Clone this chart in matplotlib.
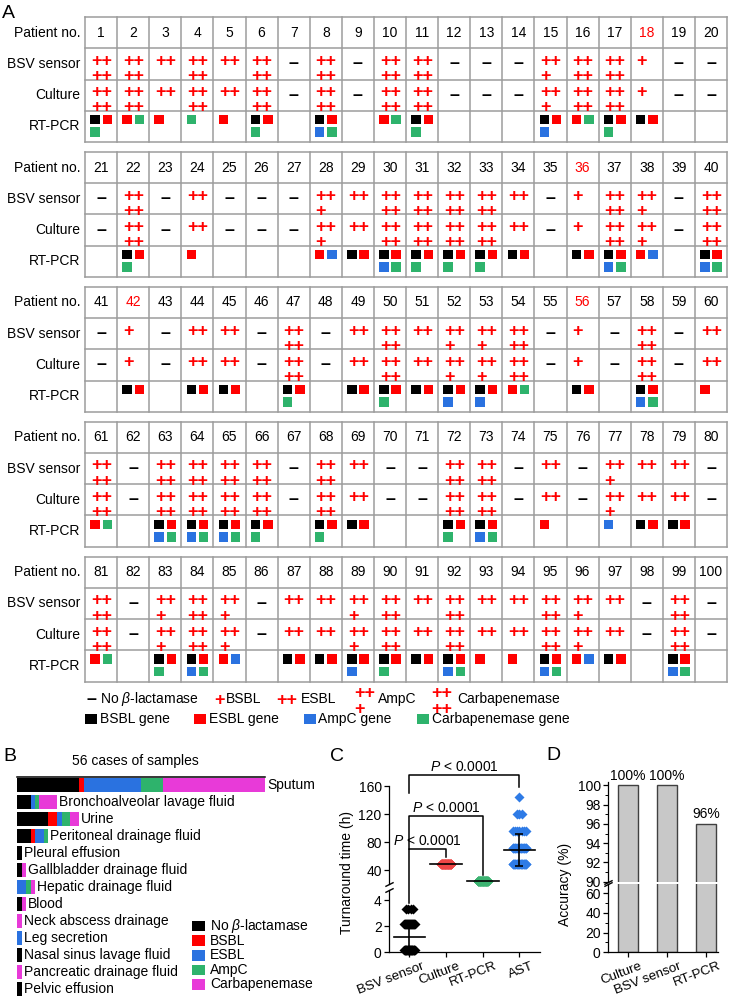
import numpy as np
import matplotlib
matplotlib.use("Agg")
import matplotlib.pyplot as plt
from matplotlib.patches import Rectangle
from matplotlib.transforms import ScaledTranslation

plt.rcParams["font.family"] = ["Liberation Sans", "DejaVu Sans"]
plt.rcParams["mathtext.fontset"] = "custom"
plt.rcParams["mathtext.rm"] = "Liberation Sans"
plt.rcParams["mathtext.it"] = "Liberation Sans:italic"
plt.rcParams["font.size"] = 10

# ---------------- data: panel A ----------------
patient_no = list(range(1, 101))
red_patients = [18, 36, 42, 56]
row_labels = ["Patient no.", "BSV sensor", "Culture", "RT-PCR"]

# 0 = no beta-lactamase, 1 = BSBL (+), 2 = ESBL (++), 3 = AmpC (++/+), 4 = carbapenemase (++/++)
bsv_sensor = [4, 4, 2, 4, 2, 4, 0, 4, 0, 4, 4, 0, 0, 0, 3, 4, 4, 1, 0, 0,
              0, 4, 0, 2, 0, 0, 0, 3, 2, 4, 4, 4, 4, 2, 0, 1, 4, 3, 0, 4,
              0, 1, 0, 2, 2, 0, 4, 0, 2, 4, 2, 3, 3, 4, 0, 1, 0, 4, 0, 2,
              4, 0, 4, 4, 4, 4, 0, 4, 2, 0, 0, 4, 4, 0, 2, 0, 3, 2, 2, 0,
              4, 0, 3, 4, 3, 0, 2, 2, 3, 4, 2, 4, 2, 2, 4, 3, 2, 0, 4, 0]
culture = [4, 4, 2, 4, 2, 4, 0, 4, 0, 4, 4, 0, 0, 0, 3, 4, 4, 1, 0, 0,
           0, 4, 0, 2, 0, 0, 0, 3, 2, 4, 4, 4, 4, 2, 0, 1, 4, 3, 0, 4,
           0, 1, 0, 2, 2, 0, 4, 0, 2, 4, 2, 3, 3, 4, 0, 1, 0, 4, 0, 2,
           4, 0, 4, 4, 4, 4, 0, 4, 2, 0, 0, 4, 4, 0, 2, 0, 3, 2, 2, 0,
           4, 0, 3, 4, 3, 0, 2, 2, 3, 4, 2, 4, 2, 2, 4, 3, 2, 0, 4, 0]
# genes found: B = BSBL, E = ESBL, A = AmpC, C = carbapenemase
rt_pcr = ["BEC", "EC", "E", "C", "E", "BEC", "", "BEAC", "", "EC",
          "BEC", "", "", "", "BEA", "EC", "BEC", "BE", "", "",
          "", "BEC", "", "E", "", "", "", "EA", "BE", "BEAC",
          "BEC", "BEC", "BEC", "BE", "", "BE", "BEAC", "EA", "", "BEAC",
          "", "BE", "", "BE", "BE", "", "BEC", "", "BE", "BEC",
          "BE", "BEA", "BEA", "EC", "", "BE", "", "BEAC", "", "E",
          "EC", "", "BEAC", "BEAC", "BEAC", "BEC", "", "BEC", "BE", "",
          "", "BEC", "BEAC", "", "E", "", "A", "BE", "BE", "",
          "EC", "", "BEC", "BEAC", "EA", "", "BE", "BE", "BEA", "BEC",
          "BE", "BEAC", "E", "E", "BEAC", "EA", "BE", "", "BEAC", ""]

# ---------------- data: panel B ----------------
sample_types = ["Sputum", "Bronchoalveolar lavage fluid", "Urine", "Peritoneal drainage fluid",
                "Pleural effusion", "Gallbladder drainage fluid", "Hepatic drainage fluid", "Blood",
                "Neck abscess drainage", "Leg secretion", "Nasal sinus lavage fluid",
                "Pancreatic drainage fluid", "Pelvic effusion"]
b_none = [14, 3, 7, 3, 1, 1, 0, 1, 0, 0, 1, 0, 1]
b_bsbl = [1, 0, 2, 1, 0, 0, 0, 0, 0, 0, 0, 0, 0]
b_esbl = [13, 1, 1, 2, 0, 0, 2, 0, 0, 1, 0, 0, 0]
b_ampc = [5, 1, 2, 1, 0, 0, 1, 0, 0, 0, 0, 0, 0]
b_carb = [23, 4, 2, 0, 0, 1, 1, 1, 1, 0, 0, 1, 0]
b_names = [r"No $\beta$-lactamase", "BSBL", "ESBL", "AmpC", "Carbapenemase"]

# ---------------- data: panel C ----------------
c_methods = ["BSV sensor", "Culture", "RT-PCR", "AST"]
c_levels = [[0.2, 2.2, 3.3], [48], [24], [48, 72, 96, 120, 144]]
c_counts = [[30, 22, 4], [56], [56], [25, 20, 7, 3, 1]]
c_colors = ["#000000", "#ee4646", "#3cb371", "#2e7be6"]
p_text = "$P$ < 0.0001"

# ---------------- data: panel D ----------------
d_methods = ["Culture", "BSV sensor", "RT-PCR"]
d_accuracy = [100, 100, 96]

# ---------------- style ----------------
RED = "#ff0000"
BLUE = "#2a72e0"
GREEN = "#2eb36c"
MAGENTA = "#e83ad8"
gene_colors = {"B": "#000000", "E": RED, "A": BLUE, "C": GREEN}
b_colors = ["#000000", RED, BLUE, GREEN, MAGENTA]

W, H = 730, 999
fig = plt.figure(figsize=(W / 100, H / 100), dpi=100)


def px_axes(left, top, right, bottom):
    return fig.add_axes([left / W, 1 - bottom / H, (right - left) / W, (bottom - top) / H])


ax0 = px_axes(0, 0, W, H)
ax0.set_xlim(0, W)
ax0.set_ylim(H, 0)
ax0.axis("off")

# ---------------- panel A ----------------
TBL_L, TBL_R = 85, 727
CW = (TBL_R - TBL_L) / 20
RH = 31.25
TOP0, STEP = 17, 134.9
GRID = "#9c9c9c"
SQ = 9.5
SQX = [10.0, 22.3]
SQY = [8.8, 21.3]
PLUS_FS = 13
plus_kw = dict(color=RED, fontsize=PLUS_FS, fontweight="bold", ha="left", multialignment="left")


def plus_text(n):
    rows = ["+" if n == 1 else "++"]
    if n == 3:
        rows.append("+")
    elif n == 4:
        rows.append("++")
    return "\n".join(rows)


def draw_call(x0, y0, n):
    if n == 0:
        ax0.text(x0 + CW / 2, y0 + RH / 2, "\u2013", fontsize=13, fontweight="bold",
                 ha="center", va="center")
        return
    ax0.text(x0 + 6.0, y0 + 4.5, plus_text(n), va="top", linespacing=0.87, **plus_kw)


for b in range(5):
    top = TOP0 + b * STEP
    for k in range(5):
        ax0.plot([TBL_L, TBL_R], [top + k * RH] * 2, color=GRID, lw=1.1)
    for i in range(21):
        ax0.plot([TBL_L + i * CW] * 2, [top, top + 4 * RH], color=GRID, lw=1.1)
    for r, lab in enumerate(row_labels):
        ax0.text(80, top + (r + 0.5) * RH, lab, ha="right", va="center", fontsize=10)
    for i in range(20):
        p = b * 20 + i
        x0 = TBL_L + i * CW
        num = patient_no[p]
        ax0.text(x0 + CW / 2, top + RH / 2, str(num), ha="center", va="center", fontsize=10,
                 color=RED if num in red_patients else "black")
        draw_call(x0, top + RH, bsv_sensor[p])
        draw_call(x0, top + 2 * RH, culture[p])
        for j, g in enumerate(rt_pcr[p]):
            cx = x0 + SQX[j % 2]
            cy = top + 3 * RH + SQY[j // 2]
            ax0.add_patch(Rectangle((cx - SQ / 2, cy - SQ / 2), SQ, SQ, color=gene_colors[g], lw=0))

# legend of panel A
ly1, ly2 = 699, 719
ax0.text(91, ly1, "\u2013", fontsize=13, fontweight="bold", ha="center", va="center")
ax0.text(100, ly1, r"No $\beta$-lactamase", ha="left", va="center")
ax0.text(214.0, ly1 + 5.5, "+", va="baseline", **plus_kw)
ax0.text(226, ly1, "BSBL", ha="left", va="center")
ax0.text(276.0, ly1 + 5.5, "++", va="baseline", **plus_kw)
ax0.text(301, ly1, "ESBL", ha="left", va="center")
ax0.text(354.0, ly1 - 14.0, "++\n+", va="top", linespacing=0.95, **plus_kw)
ax0.text(378, ly1, "AmpC", ha="left", va="center")
ax0.text(431.5, ly1 - 14.0, "++\n++", va="top", linespacing=0.95, **plus_kw)
ax0.text(457, ly1, "Carbapenemase", ha="left", va="center")
for sx, tx, g, lab in zip([85, 194, 304, 417], [100, 209, 318, 432], "BEAC",
                          ["BSBL gene", "ESBL gene", "AmpC gene", "Carbapenemase gene"]):
    ax0.add_patch(Rectangle((sx, ly2 - 5.5), 12, 10.5, color=gene_colors[g], lw=0))
    ax0.text(tx, ly2 + 0.5, lab, ha="left", va="center")

# panel labels
for lab, x, y in [("A", 2, 5), ("B", 3, 748), ("C", 330, 748), ("D", 546, 747)]:
    ax0.text(x, y, lab, fontsize=14, ha="left", va="top")

# ---------------- panel B ----------------
axb = px_axes(17.3, 776.5, 265, 997.5)
ypos = np.arange(len(sample_types))
left = np.zeros(len(sample_types))
for vals, col in zip([b_none, b_bsbl, b_esbl, b_ampc, b_carb], b_colors):
    axb.barh(ypos, vals, left=left, height=0.82, color=col, lw=0)
    left += np.array(vals)
for i, name in enumerate(sample_types):
    axb.annotate(name, xy=(left[i], i), xytext=(1.5, 0), textcoords="offset points",
                 ha="left", va="center", fontsize=10, annotation_clip=False)
axb.set_xlim(0, 56)
axb.set_ylim(len(sample_types) - 0.5, -0.5)
for s in ["left", "right", "bottom"]:
    axb.spines[s].set_visible(False)
axb.spines["top"].set_linewidth(1.1)
axb.set_xticks([])
axb.set_yticks([])
axb.patch.set_alpha(0)
ax0.text(135, 761, "56 cases of samples", ha="center", va="center", fontsize=10)

for i, (col, name) in enumerate(zip(b_colors, b_names)):
    yy = 926 + 14.6 * i
    ax0.add_patch(Rectangle((191.7, yy - 5.3), 13, 10.6, color=col, lw=0))
    ax0.text(210, yy, name, ha="left", va="center", fontsize=10)


def style_axis(ax):
    ax.spines["right"].set_visible(False)
    ax.spines["top"].set_visible(False)
    ax.patch.set_alpha(0)
    for s in ("left", "bottom"):
        ax.spines[s].set_linewidth(0.9)
    ax.tick_params(direction="out", length=3.5, width=0.9, labelsize=10, pad=2)
    ax.tick_params(which="minor", direction="out", length=2, width=0.7)


def tilt_labels(ax, labels):
    ax.set_xticklabels(labels, rotation=21, ha="right", fontsize=9.6)
    shift = ScaledTranslation(16 / 100, 0, fig.dpi_scale_trans)
    for lab in ax.get_xticklabels():
        lab.set_transform(lab.get_transform() + shift)


# ---------------- panel C ----------------
axc_up = px_axes(389.3, 786, 540, 884)
axc_lo = px_axes(389.3, 890, 540, 952.3)
for ax in (axc_up, axc_lo):
    ax.set_xlim(-0.55, 3.56)
    style_axis(ax)
axc_up.spines["bottom"].set_visible(False)
axc_up.set_ylim(20, 160)
axc_up.set_yticks([40, 80, 120, 160])
axc_up.set_xticks([])
axc_lo.set_ylim(0, 4.8)
axc_lo.set_yticks([0, 2, 4])
axc_lo.set_xticks(range(4))
tilt_labels(axc_lo, c_methods)


def spread(n, wmax):
    half = min(wmax, 0.03 * (n - 1))
    return np.linspace(-half, half, n) if n > 1 else np.zeros(1)


for gi, (lv, ct, col) in enumerate(zip(c_levels, c_counts, c_colors)):
    wmax = 0.19 if gi == 3 else 0.14
    for level, n in zip(lv, ct):
        ax = axc_lo if level < 10 else axc_up
        ax.plot(gi + spread(n, wmax), [level] * n, "D", ms=4.8, color=col, mec="none",
                clip_on=False, zorder=3)
    vals = np.repeat(lv, ct)
    mean, sd = vals.mean(), vals.std()
    ax = axc_lo if mean < 10 else axc_up
    ax.plot([gi - 0.43, gi + 0.43], [mean, mean], color="black", lw=1.2, zorder=4, clip_on=False)
    if sd > 0:
        ax.errorbar(gi, mean, yerr=sd, color="black", lw=1.2, capsize=3, capthick=1.2, zorder=4)

bk = dict(marker=[(-1, -0.5), (1, 0.5)], markersize=6, linestyle="none", color="k",
          mec="k", mew=1, clip_on=False)
axc_up.plot([0], [0], transform=axc_up.transAxes, **bk)
axc_lo.plot([0], [1], transform=axc_lo.transAxes, **bk)

# significance brackets (upper-axis data units, legs may run past the axis)
brackets = [(1, 69.6, -7.1, 59.0), (2, 117.0, 69.6, 32.9), (3, 175.7, 150.0, 159.0)]
for xr, yb, yl, yr in brackets:
    axc_up.plot([0, 0, xr, xr], [yl, yb, yb, yr], color="black", lw=1.1, clip_on=False)
    axc_up.annotate(p_text, xy=(xr / 2, yb), xytext=(0, 1), textcoords="offset points",
                    ha="center", va="bottom", fontsize=10, annotation_clip=False)
fig.text(346.7 / W, 1 - 872.5 / H, "Turnaround time (h)", rotation=90, ha="center", va="center",
         fontsize=10)

# ---------------- panel D ----------------
axd_up = px_axes(608.3, 782.2, 718.3, 881.7)
axd_lo = px_axes(608.3, 884.3, 718.3, 952.3)
for ax in (axd_up, axd_lo):
    ax.bar(range(3), d_accuracy, width=0.51, color="#c8c8c8", edgecolor="#404040", lw=1)
    ax.set_xlim(-0.51, 2.31)
    style_axis(ax)
axd_up.spines["bottom"].set_visible(False)
axd_up.set_ylim(90, 100.33)
axd_up.set_yticks(range(90, 101, 2))
axd_up.set_yticks(range(91, 100, 2), minor=True)
axd_up.set_xticks([])
axd_lo.set_ylim(0, 69)
axd_lo.set_yticks([0, 20, 40, 60])
axd_lo.set_yticks([10, 30, 50], minor=True)
axd_lo.set_xticks(range(3))
tilt_labels(axd_lo, d_methods)
for i, v in enumerate(d_accuracy):
    axd_up.annotate(f"{v}%", xy=(i, v), xytext=(0, 2), textcoords="offset points",
                    ha="center", va="bottom", fontsize=10, annotation_clip=False)
axd_up.plot([0], [0], transform=axd_up.transAxes, **bk)
axd_lo.plot([0], [1], transform=axd_lo.transAxes, **bk)
fig.text(565 / W, 1 - 884 / H, "Accuracy (%)", rotation=90, ha="center", va="center", fontsize=10)

fig.savefig("out.png", dpi=100)
